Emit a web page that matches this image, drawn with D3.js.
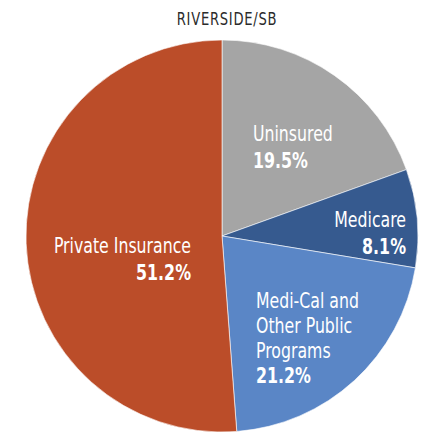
<!DOCTYPE html>
<html lang="en">
<head>
    <meta charset="UTF-8">
    <title>Riverside/SB Coverage Pie</title>
    <script src="https://d3js.org/d3.v7.min.js"></script>
    <style>
        body {
            margin: 0;
            background-color: #fff;
            font-family: "DejaVu Sans", sans-serif;
        }
    </style>
</head>
<body>
    <div id="chart"></div>
    <script>
        // Data
        var categories = ["Uninsured", "Medicare", "Medi-Cal and Other Public Programs", "Private Insurance"];
        var values = [19.5, 8.1, 21.2, 51.2];
        var labelLines = [["Uninsured"], ["Medicare"], ["Medi-Cal and", "Other Public", "Programs"], ["Private Insurance"]];
        var colors = ["#a5a5a5", "#365a8f", "#5a86c6", "#bb4d29"];
        var title = "RIVERSIDE/SB";

        var width = 422, height = 433;
        var cx = 222, cy = 236, radius = 196;

        // label placement per slice: offset from pie centre, anchor, line height
        var labelLayout = [
            {x: 31, y: -95, anchor: "start", lh: 26.5},
            {x: 184, y: -9, anchor: "end", lh: 27},
            {x: 34, y: 72, anchor: "start", lh: 25},
            {x: -31, y: 17, anchor: "end", lh: 27}
        ];

        // no condensed face installed, so squeeze text horizontally
        var nameSqueeze = 0.75, pctSqueeze = 0.72;

        var svg = d3.select("#chart")
            .append("svg")
            .attr("width", width)
            .attr("height", height);

        // Title
        svg.append("g")
            .attr("transform", "translate(227,25) scale(0.73,1)")
            .append("text")
            .attr("text-anchor", "middle")
            .attr("fill", "#2b2b2b")
            .style("font-size", "18px")
            .style("letter-spacing", "1px")
            .text(title);

        var data = categories.map(function (c, i) {
            return {name: c, value: values[i], lines: labelLines[i], color: colors[i], pos: labelLayout[i]};
        });

        var pie = d3.pie()
            .sort(null)
            .value(function (d) {return d.value;});

        var arc = d3.arc()
            .innerRadius(0)
            .outerRadius(radius);

        var g = svg.append("g")
            .attr("transform", `translate(${cx},${cy})`);

        var slices = g.selectAll(".slice")
            .data(pie(data))
            .enter().append("g")
            .attr("class", "slice");

        slices.append("path")
            .attr("d", arc)
            .attr("fill", function (d) {return d.data.color;})
            .attr("stroke", "#fff")
            .attr("stroke-width", 0.6);

        // Labels
        slices.each(function (d) {
            var p = d.data.pos;
            var sel = d3.select(this);
            d.data.lines.forEach(function (line, i) {
                sel.append("g")
                    .attr("transform", `translate(${p.x},${p.y + i * p.lh}) scale(${nameSqueeze},1)`)
                    .append("text")
                    .attr("text-anchor", p.anchor)
                    .attr("fill", "#fff")
                    .style("font-size", "21px")
                    .text(line);
            });
            sel.append("g")
                .attr("transform", `translate(${p.x},${p.y + d.data.lines.length * p.lh}) scale(${pctSqueeze},1)`)
                .append("text")
                .attr("text-anchor", p.anchor)
                .attr("fill", "#fff")
                .style("font-size", "22px")
                .style("font-weight", "bold")
                .text(d3.format(".1f")(d.data.value) + "%");
        });
    </script>
</body>
</html>
